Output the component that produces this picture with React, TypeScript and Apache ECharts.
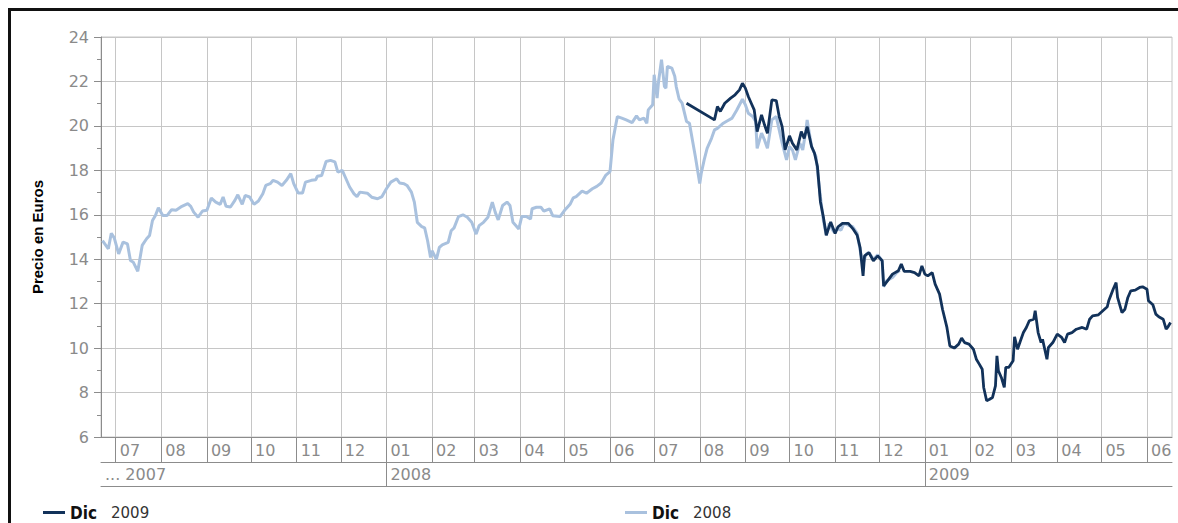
import React, { useEffect, useRef } from 'react';
import * as echarts from 'echarts';

// ---------- data ----------
const AXIS_START = '2007-06-21';
const AXIS_END = '2009-06-18';
const Y_MIN = 6;
const Y_MAX = 24;
const Y_STEP = 2;
const Y_AXIS_TITLE = 'Precio en Euros';
const FIRST_YEAR_LABEL = '... 2007';
const SERIES_2009 = 'Dic 2009';
const SERIES_2008 = 'Dic 2008';

const DIC_2008: [string, number][] = [
  ['2007-06-22', 14.84], ['2007-06-26', 14.47], ['2007-06-28', 15.17], ['2007-06-30', 14.96],
  ['2007-07-03', 14.24], ['2007-07-06', 14.77], ['2007-07-09', 14.69], ['2007-07-11', 13.94],
  ['2007-07-13', 13.86], ['2007-07-16', 13.46], ['2007-07-19', 14.62], ['2007-07-22', 14.92],
  ['2007-07-24', 15.07], ['2007-07-26', 15.74], ['2007-07-28', 15.97], ['2007-07-30', 16.32],
  ['2007-08-02', 15.97], ['2007-08-05', 15.97], ['2007-08-08', 16.23], ['2007-08-11', 16.2],
  ['2007-08-15', 16.38], ['2007-08-19', 16.5], ['2007-08-21', 16.38], ['2007-08-23', 16.12],
  ['2007-08-26', 15.89], ['2007-08-29', 16.17], ['2007-09-01', 16.2], ['2007-09-04', 16.75],
  ['2007-09-07', 16.57], ['2007-09-10', 16.47], ['2007-09-12', 16.8], ['2007-09-14', 16.38],
  ['2007-09-17', 16.35], ['2007-09-20', 16.65], ['2007-09-22', 16.9], ['2007-09-25', 16.47],
  ['2007-09-27', 16.87], ['2007-09-30', 16.8], ['2007-10-03', 16.47], ['2007-10-06', 16.62],
  ['2007-10-09', 16.95], ['2007-10-11', 17.32], ['2007-10-14', 17.4], ['2007-10-16', 17.55],
  ['2007-10-19', 17.47], ['2007-10-22', 17.32], ['2007-10-25', 17.55], ['2007-10-28', 17.85],
  ['2007-10-30', 17.4], ['2007-11-02', 16.98], ['2007-11-05', 16.98], ['2007-11-07', 17.47],
  ['2007-11-11', 17.55], ['2007-11-14', 17.58], ['2007-11-15', 17.73], ['2007-11-18', 17.77],
  ['2007-11-21', 18.4], ['2007-11-24', 18.45], ['2007-11-27', 18.38], ['2007-11-29', 17.92],
  ['2007-12-02', 18.0], ['2007-12-04', 17.7], ['2007-12-07', 17.25], ['2007-12-10', 16.94],
  ['2007-12-12', 16.82], ['2007-12-14', 17.02], ['2007-12-19', 16.97], ['2007-12-22', 16.79],
  ['2007-12-26', 16.72], ['2007-12-29', 16.82], ['2008-01-01', 17.17], ['2008-01-04', 17.47],
  ['2008-01-08', 17.62], ['2008-01-10', 17.43], ['2008-01-13', 17.4], ['2008-01-15', 17.32],
  ['2008-01-18', 17.02], ['2008-01-20', 16.57], ['2008-01-22', 15.66], ['2008-01-25', 15.47],
  ['2008-01-27', 15.41], ['2008-01-29', 14.83], ['2008-01-31', 14.08], ['2008-02-01', 14.38],
  ['2008-02-04', 14.0], ['2008-02-06', 14.53], ['2008-02-08', 14.65], ['2008-02-12', 14.76],
  ['2008-02-14', 15.28], ['2008-02-16', 15.41], ['2008-02-19', 15.92], ['2008-02-22', 16.0],
  ['2008-02-25', 15.89], ['2008-02-28', 15.66], ['2008-03-02', 15.13], ['2008-03-04', 15.51],
  ['2008-03-07', 15.66], ['2008-03-10', 15.89], ['2008-03-13', 16.57], ['2008-03-15', 16.11],
  ['2008-03-17', 15.77], ['2008-03-20', 16.42], ['2008-03-23', 16.57], ['2008-03-25', 16.42],
  ['2008-03-27', 15.66], ['2008-03-31', 15.36], ['2008-04-02', 15.92], ['2008-04-05', 15.92],
  ['2008-04-08', 15.81], ['2008-04-09', 16.27], ['2008-04-12', 16.34], ['2008-04-15', 16.34],
  ['2008-04-17', 16.16], ['2008-04-21', 16.27], ['2008-04-23', 15.96], ['2008-04-28', 15.92],
  ['2008-05-01', 16.19], ['2008-05-05', 16.49], ['2008-05-07', 16.76], ['2008-05-09', 16.82],
  ['2008-05-13', 17.06], ['2008-05-16', 16.97], ['2008-05-20', 17.17], ['2008-05-23', 17.28],
  ['2008-05-26', 17.43], ['2008-05-29', 17.77], ['2008-06-01', 17.94], ['2008-06-03', 19.37],
  ['2008-06-06', 20.42], ['2008-06-09', 20.35], ['2008-06-12', 20.27], ['2008-06-16', 20.15],
  ['2008-06-19', 20.45], ['2008-06-21', 20.27], ['2008-06-24', 20.35], ['2008-06-26', 20.12],
  ['2008-06-27', 20.72], ['2008-06-30', 20.95], ['2008-07-01', 22.3], ['2008-07-03', 21.25],
  ['2008-07-04', 22.0], ['2008-07-06', 22.98], ['2008-07-08', 21.77], ['2008-07-09', 21.7],
  ['2008-07-10', 22.68], ['2008-07-13', 22.6], ['2008-07-15', 22.23], ['2008-07-16', 21.77],
  ['2008-07-18', 21.2], ['2008-07-20', 21.02], ['2008-07-23', 20.2], ['2008-07-25', 20.12],
  ['2008-07-27', 19.37], ['2008-07-29', 18.62], ['2008-08-01', 17.41], ['2008-08-02', 17.86],
  ['2008-08-04', 18.47], ['2008-08-06', 18.99], ['2008-08-09', 19.44], ['2008-08-11', 19.82],
  ['2008-08-13', 19.89], ['2008-08-17', 20.12], ['2008-08-19', 20.2], ['2008-08-23', 20.35],
  ['2008-08-26', 20.69], ['2008-08-30', 21.2], ['2008-09-01', 20.95], ['2008-09-03', 20.57],
  ['2008-09-06', 20.42], ['2008-09-08', 20.2], ['2008-09-09', 18.99], ['2008-09-12', 19.67],
  ['2008-09-14', 19.37], ['2008-09-16', 18.99], ['2008-09-19', 20.27], ['2008-09-22', 20.42],
  ['2008-09-24', 19.82], ['2008-09-26', 19.22], ['2008-09-29', 18.47], ['2008-10-01', 19.07],
  ['2008-10-03', 18.92], ['2008-10-05', 18.47], ['2008-10-08', 19.22], ['2008-10-10', 18.92],
  ['2008-10-12', 19.74], ['2008-10-13', 20.27], ['2008-10-16', 19.07], ['2008-10-19', 18.62],
  ['2008-10-20', 18.02], ['2008-10-22', 16.81], ['2008-10-24', 15.76], ['2008-10-26', 15.08],
  ['2008-10-28', 15.61], ['2008-10-31', 15.23], ['2008-11-02', 15.38], ['2008-11-05', 15.31],
  ['2008-11-07', 15.61], ['2008-11-10', 15.53], ['2008-11-13', 15.46], ['2008-11-16', 15.16],
  ['2008-11-18', 14.41], ['2008-11-20', 13.78], ['2008-11-22', 14.22], ['2008-11-24', 14.3],
  ['2008-11-27', 14.0], ['2008-11-30', 14.2], ['2008-12-03', 13.93], ['2008-12-04', 12.76],
  ['2008-12-06', 13.03], ['2008-12-10', 13.18], ['2008-12-13', 13.4], ['2008-12-15', 13.5],
];

const DIC_2009: [string, number][] = [
  ['2008-07-23', 21.02], ['2008-08-11', 20.27], ['2008-08-13', 20.87], ['2008-08-15', 20.65],
  ['2008-08-18', 21.02], ['2008-08-22', 21.25], ['2008-08-25', 21.4], ['2008-08-28', 21.62],
  ['2008-08-30', 21.92], ['2008-09-01', 21.7], ['2008-09-03', 21.32], ['2008-09-05', 21.02],
  ['2008-09-07', 20.72], ['2008-09-09', 19.74], ['2008-09-12', 20.5], ['2008-09-14', 20.05],
  ['2008-09-16', 19.67], ['2008-09-19', 21.17], ['2008-09-22', 21.14], ['2008-09-24', 20.42],
  ['2008-09-26', 19.97], ['2008-09-28', 18.92], ['2008-10-01', 19.55], ['2008-10-03', 19.22],
  ['2008-10-06', 18.92], ['2008-10-09', 19.74], ['2008-10-11', 19.44], ['2008-10-13', 19.97],
  ['2008-10-16', 19.07], ['2008-10-18', 18.77], ['2008-10-20', 18.17], ['2008-10-22', 16.59],
  ['2008-10-24', 15.91], ['2008-10-26', 15.08], ['2008-10-29', 15.68], ['2008-11-01', 15.16],
  ['2008-11-03', 15.46], ['2008-11-06', 15.61], ['2008-11-10', 15.61], ['2008-11-13', 15.38],
  ['2008-11-16', 15.08], ['2008-11-18', 14.52], ['2008-11-20', 13.25], ['2008-11-21', 14.15],
  ['2008-11-24', 14.3], ['2008-11-27', 13.93], ['2008-11-30', 14.15], ['2008-12-03', 13.93],
  ['2008-12-04', 12.8], ['2008-12-07', 13.06], ['2008-12-10', 13.33], ['2008-12-14', 13.48],
  ['2008-12-16', 13.78], ['2008-12-18', 13.45], ['2008-12-22', 13.45], ['2008-12-25', 13.4],
  ['2008-12-28', 13.25], ['2008-12-30', 13.7], ['2009-01-01', 13.33], ['2009-01-03', 13.25],
  ['2009-01-06', 13.4], ['2009-01-08', 12.88], ['2009-01-11', 12.43], ['2009-01-13', 11.75],
  ['2009-01-16', 10.93], ['2009-01-18', 10.1], ['2009-01-21', 10.0], ['2009-01-24', 10.18],
  ['2009-01-26', 10.45], ['2009-01-28', 10.25], ['2009-01-31', 10.18], ['2009-02-03', 9.95],
  ['2009-02-05', 9.5], ['2009-02-07', 9.28], ['2009-02-09', 9.05], ['2009-02-10', 8.23],
  ['2009-02-12', 7.63], ['2009-02-14', 7.7], ['2009-02-16', 7.78], ['2009-02-18', 8.3],
  ['2009-02-19', 9.65], ['2009-02-20', 8.98], ['2009-02-22', 8.68], ['2009-02-24', 8.23],
  ['2009-02-25', 9.13], ['2009-02-27', 9.13], ['2009-03-02', 9.43], ['2009-03-03', 10.51],
  ['2009-03-05', 9.95], ['2009-03-07', 10.33], ['2009-03-09', 10.7], ['2009-03-11', 10.93],
  ['2009-03-13', 11.23], ['2009-03-16', 11.3], ['2009-03-17', 11.68], ['2009-03-19', 10.7],
  ['2009-03-21', 10.25], ['2009-03-22', 10.4], ['2009-03-25', 9.5], ['2009-03-26', 10.03],
  ['2009-03-29', 10.25], ['2009-04-01', 10.63], ['2009-04-04', 10.48], ['2009-04-06', 10.25],
  ['2009-04-08', 10.63], ['2009-04-11', 10.7], ['2009-04-14', 10.85], ['2009-04-18', 10.93],
  ['2009-04-21', 10.85], ['2009-04-23', 11.3], ['2009-04-25', 11.45], ['2009-04-29', 11.5],
  ['2009-05-02', 11.68], ['2009-05-05', 11.86], ['2009-05-06', 12.13], ['2009-05-09', 12.65],
  ['2009-05-11', 12.95], ['2009-05-12', 12.28], ['2009-05-15', 11.6], ['2009-05-17', 11.75],
  ['2009-05-19', 12.28], ['2009-05-21', 12.58], ['2009-05-24', 12.61], ['2009-05-27', 12.73],
  ['2009-05-29', 12.76], ['2009-06-01', 12.65], ['2009-06-02', 12.13], ['2009-06-05', 11.95],
  ['2009-06-07', 11.53], ['2009-06-09', 11.41], ['2009-06-12', 11.3], ['2009-06-14', 10.85],
  ['2009-06-15', 10.93], ['2009-06-17', 11.15],
];

// ---------- helpers ----------
function buildDays(start: string, end: string): string[] {
  const out: string[] = [];
  let t = Date.parse(start + 'T00:00:00Z');
  const e = Date.parse(end + 'T00:00:00Z');
  while (t <= e) {
    out.push(new Date(t).toISOString().slice(0, 10));
    t += 86400000;
  }
  return out;
}

const DAYS = buildDays(AXIS_START, AXIS_END);
const isMonthStart = (_i: number, v: string) => v.slice(8) === '01';
const isYearStart = (_i: number, v: string) => v.slice(5) === '01-01';

const LIGHT = '#a9c1de';
const DARK = '#12325a';
const GRID = '#c6c6c6';
const AXIS = '#8c8c8c';
const LABEL = '#8a8a8a';
const LABEL_FONT = 'DejaVu Sans';

function legendFor(name: string, left: number) {
  return {
    data: [name],
    left,
    top: 499,
    icon: 'rect',
    itemWidth: 22,
    itemHeight: 3,
    selectedMode: false,
    formatter: (n: string) => `{b|${n.split(' ')[0]}}{g|}{y|${n.split(' ')[1]}}`,
    textStyle: {
      rich: {
        b: { fontFamily: 'DejaVu Sans Condensed, Liberation Sans Narrow, Liberation Sans', fontWeight: 'bold', fontSize: 17, color: '#111' },
        g: { width: 14 },
        y: { fontFamily: LABEL_FONT, fontSize: 15, color: '#333' },
      },
    },
  };
}

export default function App() {
  const ref = useRef<HTMLDivElement>(null);

  useEffect(() => {
    if (!ref.current) return;
    const chart = echarts.init(ref.current, undefined, { renderer: 'svg' });
    const baseCat = {
      type: 'category',
      data: DAYS,
      boundaryGap: false,
      position: 'bottom',
      axisLine: { show: true, lineStyle: { color: AXIS, width: 1 } },
    };
    chart.setOption({
      animation: false,
      backgroundColor: '#ffffff',
      grid: { left: 101, right: 6, top: 37, bottom: 86, show: true, borderColor: GRID, borderWidth: 1, backgroundColor: 'transparent' },
      xAxis: [
        {
          ...baseCat,
          axisTick: { show: true, interval: isMonthStart, length: 25, lineStyle: { color: AXIS } },
          axisLabel: {
            interval: isMonthStart,
            formatter: (v: string) => v.slice(5, 7),
            align: 'left',
            padding: [0, 0, 0, 4],
            margin: 5,
            color: LABEL,
            fontFamily: LABEL_FONT,
            fontSize: 16,
          },
          splitLine: { show: true, interval: isMonthStart, lineStyle: { color: GRID, width: 1 } },
        },
        {
          ...baseCat,
          offset: 25,
          axisTick: { show: true, interval: isYearStart, length: 24, lineStyle: { color: AXIS } },
          axisLabel: {
            interval: (i: number, v: string) => i === 0 || isYearStart(i, v),
            formatter: (v: string, i: number) => (i === 0 ? FIRST_YEAR_LABEL : v.slice(0, 4)),
            align: 'left',
            padding: [0, 0, 0, 4],
            margin: 4,
            color: LABEL,
            fontFamily: LABEL_FONT,
            fontSize: 16,
          },
          splitLine: { show: false },
        },
        {
          ...baseCat,
          offset: 49,
          axisTick: { show: false },
          axisLabel: { show: false },
          splitLine: { show: false },
        },
      ],
      yAxis: {
        type: 'value',
        min: Y_MIN,
        max: Y_MAX,
        interval: Y_STEP,
        name: Y_AXIS_TITLE,
        nameLocation: 'middle',
        nameGap: 56,
        nameTextStyle: { fontFamily: 'Liberation Sans', fontWeight: 'bold', fontSize: 15, color: '#000' },
        axisLine: { show: true, lineStyle: { color: AXIS } },
        axisTick: { show: true, length: 7, lineStyle: { color: AXIS } },
        minorTick: { show: true, splitNumber: 2, length: 4, lineStyle: { color: AXIS } },
        axisLabel: { margin: 12, color: LABEL, fontFamily: LABEL_FONT, fontSize: 16 },
        splitLine: { show: true, lineStyle: { color: GRID, width: 1 } },
      },
      legend: [legendFor(SERIES_2009, 38), legendFor(SERIES_2008, 620)],
      series: [
        {
          name: SERIES_2008,
          type: 'line',
          data: DIC_2008,
          symbol: 'none',
          showSymbol: false,
          lineStyle: { color: LIGHT, width: 3 },
          itemStyle: { color: LIGHT },
        },
        {
          name: SERIES_2009,
          type: 'line',
          data: DIC_2009,
          symbol: 'none',
          showSymbol: false,
          lineStyle: { color: DARK, width: 2.8 },
          itemStyle: { color: DARK },
        },
      ],
    });
    return () => chart.dispose();
  }, []);

  return (
    <>
      <div ref={ref} style={{ position: 'fixed', left: 0, top: 0, width: 1178, height: 523 }} />
      <div
        style={{
          position: 'fixed',
          left: 8,
          top: 8,
          width: 1300,
          height: 700,
          borderLeft: '3px solid #111',
          borderTop: '3px solid #111',
          pointerEvents: 'none',
          zIndex: 2,
        }}
      />
    </>
  );
}
